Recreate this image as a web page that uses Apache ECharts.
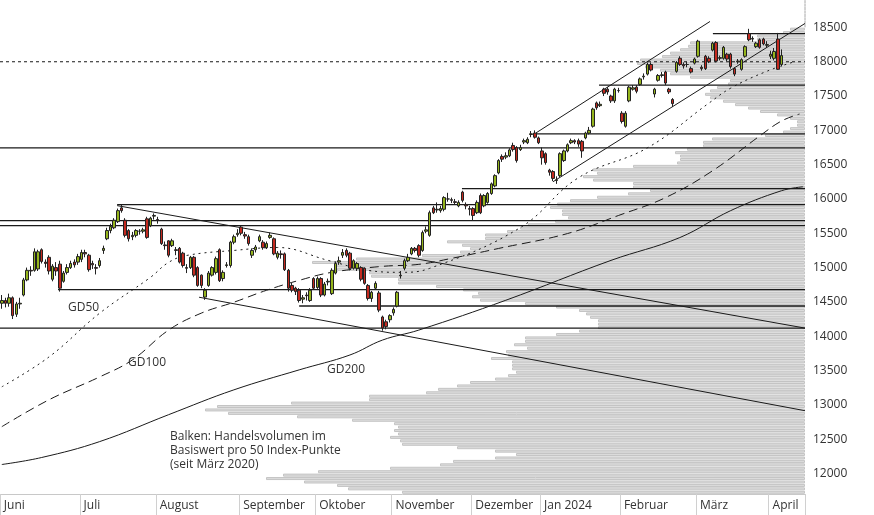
<!DOCTYPE html>
<html><head><meta charset="utf-8">
<script src="https://cdn.jsdelivr.net/npm/echarts@6/dist/echarts.min.js"></script>
<style>html,body{margin:0;padding:0;background:#fff}#c{width:874px;height:515px}</style>
</head><body><div id="c"></div>
<script>
// ---- data ----
const holidays = ['2023-10-03','2023-12-25','2023-12-26','2024-01-01','2024-03-29','2024-04-01'];
const monthNames = ['Jan 2024','Februar','März','April','Mai','Juni','Juli','August','September','Oktober','November','Dezember'];
// OHLC rows: [open, close, low, high]
const ohlc = [
// Juni
[14480,14520,14400,14600],[14520,14480,14420,14560],[14480,14560,14430,14620],[14560,14300,14250,14580],[14320,14470,14280,14500],
[14470,14480,14400,14560],[14600,14820,14580,14850],[14820,14960,14800,15000],[14960,14950,14880,15020],[14960,15230,14940,15280],
[14980,15230,14950,15260],[15260,15090,15060,15280],[15080,15060,15000,15120],[15150,14950,14900,15180],[14830,15020,14800,15050],
[15000,14950,14880,15080],[15050,14700,14650,15100],[14800,14920,14780,14950],[14930,15000,14900,15050],[15000,15060,14980,15100],
[15080,15040,15000,15120],[15080,15160,15040,15200],
// Juli
[15120,15220,15080,15260],[15220,15200,15150,15260],[15180,14970,14940,15200],[15060,15040,14980,15100],[15000,14990,14900,15050],
[15030,15100,15000,15140],[15250,15280,15200,15320],[15420,15540,15400,15580],[15540,15600,15500,15640],[15580,15690,15560,15720],
[15670,15830,15650,15860],[15870,15830,15800,15920],[15690,15470,15440,15720],[15540,15420,15380,15560],[15450,15470,15400,15520],
[15470,15540,15440,15560],[15530,15530,15480,15560],[15530,15550,15500,15580],[15710,15440,15420,15740],[15610,15720,15590,15740],
[15750,15760,15700,15790],
// August
[15700,15690,15640,15740],[15560,15350,15330,15580],[15330,15320,15260,15380],[15390,15180,15150,15400],[15320,15390,15300,15420],
[15260,15250,15180,15300],[15280,15080,15060,15300],[15210,15030,15000,15230],[15000,14990,14920,15050],[15000,15150,14980,15170],
[15150,14890,14860,15170],[15000,14740,14720,15020],[14890,14740,14700,14900],[14570,14670,14530,14700],[14740,14920,14720,14950],
[14890,15000,14870,15020],[14930,15130,14900,15160],[15260,14810,14790,15280],[14840,14930,14800,14960],[15030,15040,15000,15080],
[15030,15370,15000,15390],[15370,15450,15340,15480],[15480,15500,15450,15560],
// September
[15590,15500,15470,15620],[15480,15460,15420,15520],[15450,15350,15320,15480],[15180,15250,15140,15280],[15260,15300,15220,15330],
[15390,15450,15370,15480],[15370,15290,15260,15400],[15290,15350,15270,15380],[15440,15470,15420,15510],[15420,15200,15180,15440],
[15150,15210,15120,15240],[15200,15190,15130,15250],[15200,14970,14950,15220],[14960,14700,14650,14980],[14740,14670,14640,14780],
[14700,14650,14600,14720],[14670,14520,14490,14700],[14540,14560,14480,14600],[14600,14590,14520,14640],[14520,14670,14500,14700],
[14840,14700,14680,14860],
// Oktober
[14710,14840,14690,14870],[14840,14600,14570,14860],[14600,14760,14580,14790],[14790,14800,14740,14840],[14620,14960,14600,14990],
[14920,15060,14900,15090],[15080,15100,15040,15160],[15180,15220,15140,15270],[15250,15180,15150,15280],[15210,14990,14960,15230],
[14990,15100,14970,15120],[14990,15060,14950,15080],[15000,14830,14800,15020],[14990,14770,14750,15000],[14740,14550,14520,14760],
[14550,14640,14500,14660],[14700,14770,14680,14800],[14630,14380,14350,14660],[14280,14120,14080,14300],[14210,14140,14100,14240],
[14240,14300,14200,14320],
// November
[14340,14390,14300,14420],[14440,14640,14420,14660],[14880,14890,14840,14950],[14990,15100,14960,15130],[15100,15150,15080,15200],
[15200,15280,15180,15300],[15280,15250,15220,15300],[15320,15180,15150,15340],[15250,15510,15230,15540],[15530,15550,15500,15600],
[15470,15800,15450,15830],[15870,15800,15780,15900],[15840,15850,15800,15950],[15830,15860,15800,15900],[15850,16020,15820,16040],
[16000,16000,15960,16090],[15990,15980,15940,16020],[15960,15950,15920,16000],[15900,15950,15880,15980],[16100,15980,15950,16120],
[15920,15900,15850,15950],[15860,15850,15760,15900],
// Dezember
[15860,15760,15680,15880],[15800,15950,15780,15980],[16050,15800,15780,16080],[15900,16050,15880,16070],[15950,16080,15930,16100],
[16080,16220,16060,16240],[16190,16340,16170,16360],[16380,16560,16360,16580],[16620,16580,16540,16650],[16610,16630,16580,16680],
[16630,16715,16610,16740],[16780,16720,16690,16820],[16750,16560,16530,16770],[16720,16750,16700,16790],[16830,16850,16800,16880],
[16820,16870,16800,16900],[16940,16950,16900,16990],[16960,16900,16880,17000],[16890,16820,16800,16910],
// Januar
[16700,16600,16500,16750],[16660,16530,16500,16680],[16420,16390,16340,16440],[16400,16300,16260,16420],[16270,16280,16220,16330],
[16340,16660,16320,16680],[16560,16700,16540,16720],[16700,16790,16680,16810],[16820,16850,16800,16880],[16850,16830,16800,16870],
[16850,16800,16760,16880],[16840,16700,16600,16860],[16890,16960,16870,16980],[16960,17000,16940,17050],[17060,17310,17040,17330],
[17400,17330,17300,17420],[17360,17380,17340,17420],[17600,17540,17500,17620],[17600,17560,17520,17630],[17500,17430,17400,17520],
[17430,17600,17400,17620],[17580,17580,17550,17620],
// Februar
[17250,17130,17100,17280],[17060,17250,17040,17280],[17430,17630,17410,17650],[17600,17620,17580,17660],[17630,17570,17540,17660],
[17670,17750,17650,17770],[17780,17790,17740,17830],[17820,17960,17800,17990],[17960,17880,17860,17990],[17530,17600,17480,17620],
[17730,17800,17710,17820],[17800,17810,17770,17850],[17850,17690,17660,17870],[17600,17560,17530,17620],[17450,17390,17340,17470],
[17860,17990,17840,18010],[18050,17960,17940,18080],[17960,17940,17900,17990],[17960,17960,17920,18000],[17900,17850,17830,17930],
[17980,18040,17960,18060],
// März
[18080,18300,18060,18320],[17920,17900,17870,17950],[18080,17900,17880,18100],[18050,18000,17980,18080],[18170,18270,18150,18290],
[18280,18010,17990,18300],[18050,18060,18020,18090],[18050,18210,18030,18230],[18110,18040,18010,18130],[18110,17930,17900,18130],
[17900,17820,17790,17920],[18000,18010,17970,18040],[17890,18030,17870,18050],[18080,18220,18060,18240],[18410,18320,18300,18480],
[18330,18340,18290,18370],[18220,18270,18200,18290],[18320,18210,18190,18340],[18330,18260,18240,18350],[18240,18250,18200,18300],
// April
[18080,18110,18040,18160],[18050,18150,18020,18200],[18330,17890,17880,18420],[17960,18090,17930,18180]
];
// moving averages: [category index, value]
const gd50 = [[0,13262],[13,13697],[27,14336],[41,14858],[46,15076],[51,15177],[64,15250],[76,15293],[90,15105],[101,14960],[110,14931],[118,14989],[143,15583],[159,16309],[178,16744],[195,17397],[201,17615],[211,17862],[219,18007]];
const gd100 = [[0,12681],[13,13073],[27,13407],[36,13654],[46,14089],[55,14336],[64,14495],[73,14669],[82,14814],[91,14931],[105,15018],[115,15047],[124,15134],[137,15279],[156,15496],[170,15758],[183,16019],[196,16411],[209,16918],[215,17136],[220,17238]];
const gd200 = [[0,12130],[11,12232],[27,12464],[46,12856],[64,13218],[82,13509],[96,13726],[105,13944],[115,14089],[139,14524],[168,15105],[187,15438],[201,15830],[215,16120],[221,16178]];
// horizontal support/resistance levels and their start index
const hLevels = [18410,17660,16950,16744,16150,15917,15685,15612,14680,14440,14118];
const hStart  = [196.1,164.7,147.3,-0.5,126.9,31.8,-0.5,-0.5,15.5,82,-0.5];
// trend lines: [[i1,v1],[i2,v2]]
const trends = [
 [[31.8,15903],[221.5,14118]],
 [[54.4,14568],[221.5,12914]],
 [[147.3,16962],[195.3,18587]],
 [[152,16251],[221.5,18558]]
];
const refLevel = 18000;
// volume profile per 50 index points, from 18850 down to 11700
const volDesc = [0,0,0,0,0,0,0,0,
15,22,48,48,115,117,125,135,143,165,
168,160,145,135,115,75,77,88,95,100,
95,82,70,57,45,28,15,8,8,15,
22,40,93,102,102,118,130,125,125,128,
172,212,208,222,212,172,172,155,177,208,
235,248,255,243,243,237,250,277,285,298,
320,320,358,343,335,345,383,449,493,470,
468,436,434,407,407,369,342,327,333,325,
280,249,226,219,215,207,207,207,226,249,
280,280,291,278,299,297,314,293,293,293,
289,297,310,335,348,367,379,436,436,514,
588,600,577,508,453,411,407,411,407,415,
405,403,348,310,289,310,352,365,415,487,
522,539,501,468,457,403];
const yTicks = [12000,12500,13000,13500,14000,14500,15000,15500,16000,16500,17000,17500,18000,18500];

// ---- build ----
const dates = [];
{ let d = new Date(Date.UTC(2023,5,1));
  while (dates.length < 222) {
    const w = d.getUTCDay(), s = d.toISOString().slice(0,10);
    if (w !== 0 && w !== 6 && holidays.indexOf(s) < 0) dates.push(s);
    d = new Date(d.getTime() + 86400000);
  } }
const isFirst = (i) => i === 0 || dates[i].slice(5,7) !== dates[i-1].slice(5,7);
const volAsc = volDesc.slice().reverse();
const buckets = volAsc.map((v,i) => String(11700 + i*50));

const font = 'Open Sans';
const black = '#1a1a1a';
const series = [];
series.push({type:'candlestick', xAxisIndex:0, yAxisIndex:0, data: ohlc, barWidth: 3,
  itemStyle:{color:'#95b51c', color0:'#c42a20', borderColor:'#222', borderColor0:'#222', borderWidth:1}, z:5});
const lineBase = {type:'line', xAxisIndex:1, yAxisIndex:0, symbol:'none', silent:true, animation:false};
hLevels.forEach((v,k)=>series.push(Object.assign({}, lineBase, {data:[[hStart[k],v],[221.5,v]], lineStyle:{color:black,width:1.3}, z:4})));
trends.forEach(t=>series.push(Object.assign({}, lineBase, {data:t, lineStyle:{color:black,width:1}, z:4})));
series.push(Object.assign({}, lineBase, {data:[[-0.5,refLevel],[221.5,refLevel]], lineStyle:{color:black,width:1,type:[3,3]}, z:4}));
series.push(Object.assign({}, lineBase, {data:gd50, smooth:0.4, lineStyle:{color:black,width:1,type:[2,4]}, z:3}));
series.push(Object.assign({}, lineBase, {data:gd100, smooth:0.4, lineStyle:{color:black,width:1,type:[9,5]}, z:3}));
series.push(Object.assign({}, lineBase, {data:gd200, smooth:0.4, lineStyle:{color:black,width:1}, z:3}));
series.push({type:'bar', xAxisIndex:2, yAxisIndex:1, data: volAsc, barCategoryGap:'12%', silent:true,
  itemStyle:{color:'#dcdcdc', borderColor:'#c4c4c4', borderWidth:1}, z:1});

const grid = {left:0, right:69, top:0, bottom:21};
const option = {
  animation:false,
  grid:[Object.assign({},grid), Object.assign({},grid)],
  xAxis:[
    {type:'category', gridIndex:0, data:dates, boundaryGap:true,
     axisLine:{lineStyle:{color:'#c8c8c8'}},
     axisTick:{show:true, interval:(i)=>isFirst(i), length:21, lineStyle:{color:'#d0d0d0'}},
     axisLabel:{interval:(i)=>isFirst(i), formatter:(v)=>monthNames[(+v.slice(5,7))-1],
       align:'left', padding:[0,0,0,2], margin:6, color:'#333', fontFamily:font, fontSize:12}},
    {type:'value', gridIndex:0, min:-0.5, max:221.5, show:false},
    {type:'value', gridIndex:1, min:0, max:805, inverse:true, show:false}
  ],
  yAxis:[
    {type:'value', gridIndex:0, position:'right', min:11700, max:18900, splitLine:{show:false},
     axisLine:{show:false}, axisTick:{show:false},
     axisLabel:{customValues:yTicks, formatter:(v)=>String(v), color:'#333', fontFamily:font, fontSize:12, margin:8}},
    {type:'category', gridIndex:1, data:buckets, boundaryGap:true, show:false}
  ],
  graphic:[
    {type:'text', left:68, top:302, style:{text:'GD50', fill:'#333', font:'12px "Open Sans"'}},
    {type:'text', left:128, top:357, style:{text:'GD100', fill:'#333', font:'12px "Open Sans"'}},
    {type:'text', left:327, top:364, style:{text:'GD200', fill:'#333', font:'12px "Open Sans"'}},
    {type:'text', left:170, top:430, style:{text:'Balken: Handelsvolumen im\nBasiswert pro 50 Index-Punkte\n(seit März 2020)', fill:'#333', font:'12px "Open Sans"', lineHeight:14}}
  ],
  series
};
echarts.init(document.getElementById('c'), null, {renderer:'canvas'}).setOption(option);
</script></body></html>
